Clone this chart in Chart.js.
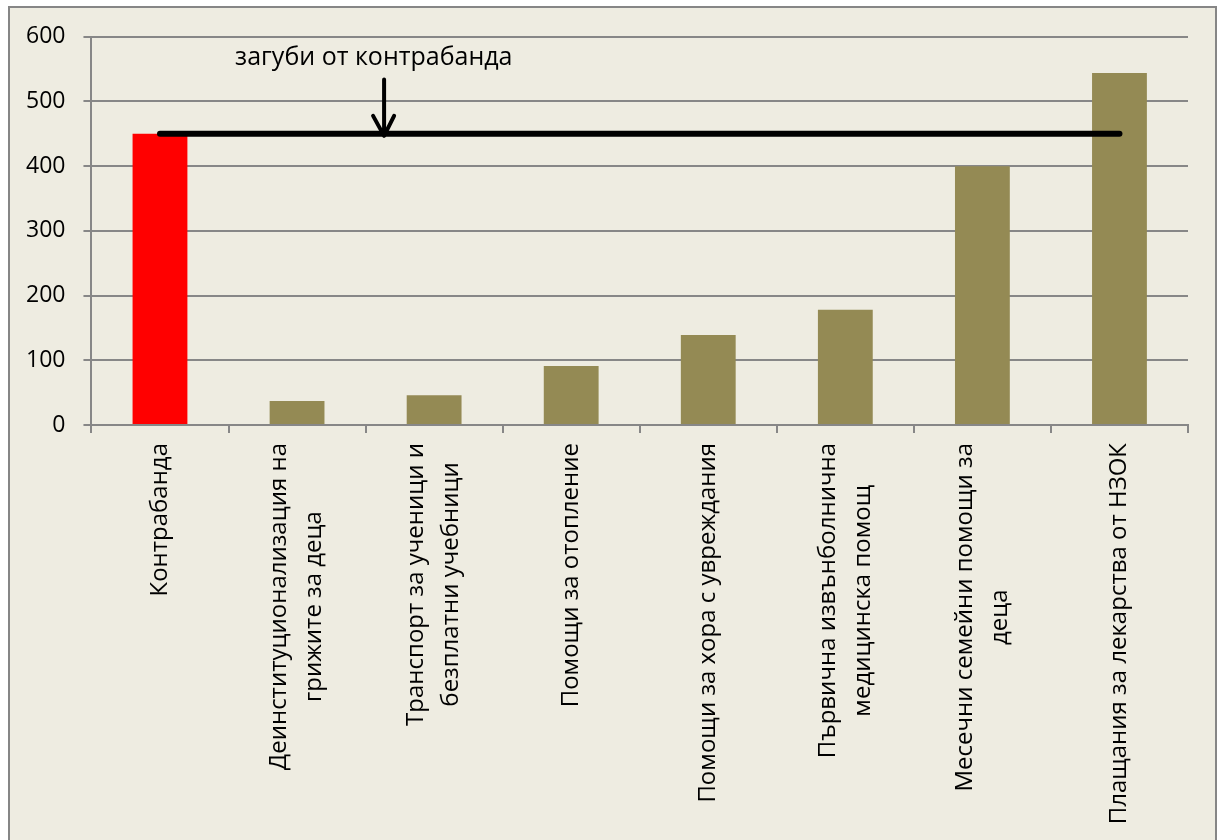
<!DOCTYPE html>
<html>
<head>
<meta charset="utf-8">
<script src="https://cdn.jsdelivr.net/npm/chart.js@4.4.0/dist/chart.umd.min.js"></script>
<style>
  html, body { margin: 0; padding: 0; background: #fff; overflow: hidden; }
  #frame {
    position: absolute; left: 8px; top: 6px; width: 1209px; height: 840px;
    box-sizing: border-box; border: 2px solid #868686; background: #eeece1;
  }
  #wrap { position: absolute; left: 0; top: -3px; width: 1205px; height: 835px; }
</style>
</head>
<body>
<div id="frame"><div id="wrap"><canvas id="chart"></canvas></div></div>
<script>
// ── Данни ─────────────────────────────────────────────────────
const CATEGORIES = [
  'Контрабанда',
  ['Деинституционализация на', 'грижите за деца'],
  ['Транспорт за ученици и', 'безплатни учебници'],
  'Помощи за отопление',
  'Помощи за хора с увреждания',
  ['Първична извънболнична', 'медицинска помощ'],
  ['Месечни семейни помощи за', 'деца'],
  'Плащания за лекарства от НЗОК'
];
const VALUES     = [450, 37, 46, 91, 139, 178, 400, 544];
const BAR_COLORS = ['#ff0000', '#948a54', '#948a54', '#948a54', '#948a54', '#948a54', '#948a54', '#948a54'];
const LOSS_LINE  = [450, 450, 450, 450, 450, 450, 450, 450];
const Y_MIN = 0, Y_MAX = 600, Y_STEP = 100;

// бележка със стрелка (в единици на осите)
const NOTE_TEXT    = 'загуби от контрабанда';
const NOTE_X       = 1.56;
const NOTE_Y       = 568;
const ARROW_X      = 1.635;
const ARROW_TOP    = 534;
const ARROW_BOTTOM = 450;

const GRID = '#878787';
const FONT = '"Open Sans", sans-serif';
const LABEL_SIZE = 24;
const LABEL_LINE = 35;
const LABEL_GAP  = 18;

// ── Надписи по X: завъртени, редовете центрирани ──────────────
const xLabels = {
  id: 'xLabels',
  afterDraw(chart) {
    const { ctx, chartArea, scales: { x } } = chart;
    ctx.save();
    ctx.font = LABEL_SIZE + 'px ' + FONT;
    ctx.fillStyle = '#000';
    ctx.textAlign = 'center';
    ctx.textBaseline = 'middle';
    CATEGORIES.forEach((label, i) => {
      const lines = Array.isArray(label) ? label : [label];
      const w  = Math.max(...lines.map(l => ctx.measureText(l).width));
      const px = x.getPixelForValue(i);
      ctx.save();
      ctx.translate(px, chartArea.bottom + LABEL_GAP + w / 2);
      ctx.rotate(-Math.PI / 2);
      lines.forEach((l, k) => ctx.fillText(l, 0, (k - (lines.length - 1) / 2) * LABEL_LINE));
      ctx.restore();
    });
    ctx.restore();
  }
};

const lossNote = {
  id: 'lossNote',
  afterDatasetsDraw(chart) {
    const { ctx, scales: { x, y } } = chart;
    ctx.save();
    ctx.fillStyle = '#000';
    ctx.font = '25px ' + FONT;
    ctx.textAlign = 'center';
    ctx.textBaseline = 'middle';
    ctx.fillText(NOTE_TEXT, x.getPixelForValue(NOTE_X), y.getPixelForValue(NOTE_Y));

    const ax  = x.getPixelForValue(ARROW_X);
    const top = y.getPixelForValue(ARROW_TOP);
    const tip = y.getPixelForValue(ARROW_BOTTOM) + 2;
    ctx.strokeStyle = '#000';
    ctx.lineWidth = 4;
    ctx.lineCap = 'round';
    ctx.lineJoin = 'round';
    ctx.beginPath();
    ctx.moveTo(ax, top);
    ctx.lineTo(ax, tip);
    ctx.moveTo(ax - 11, tip - 20);
    ctx.lineTo(ax, tip);
    ctx.lineTo(ax + 10, tip - 20);
    ctx.stroke();
    ctx.restore();
  }
};

new Chart(document.getElementById('chart'), {
  type: 'bar',
  data: {
    labels: CATEGORIES,
    datasets: [
      {
        type: 'line',
        data: LOSS_LINE,
        borderColor: '#000',
        borderWidth: 6,
        borderCapStyle: 'round',
        pointRadius: 0,
        fill: false,
        order: 0
      },
      {
        data: VALUES,
        backgroundColor: BAR_COLORS,
        borderWidth: 0,
        barPercentage: 0.4,
        categoryPercentage: 1,
        order: 1
      }
    ]
  },
  plugins: [xLabels, lossNote],
  options: {
    responsive: true, maintainAspectRatio: false, animation: false,
    layout: { padding: { left: -2, right: 27, top: 25, bottom: 407 } },
    plugins: { legend: { display: false }, tooltip: { enabled: false } },
    scales: {
      x: {
        grid: { display: true, drawOnChartArea: false, drawTicks: true, tickLength: 8, color: GRID, lineWidth: 2, offset: true },
        border: { display: true, color: GRID, width: 2 },
        ticks: { display: false }
      },
      y: {
        min: Y_MIN, max: Y_MAX,
        grid: { color: GRID, lineWidth: 2, tickLength: 8 },
        border: { display: true, color: GRID, width: 2 },
        ticks: { stepSize: Y_STEP, padding: 18, color: '#000', font: { family: FONT, size: 23 } }
      }
    }
  }
});
</script>
</body>
</html>
